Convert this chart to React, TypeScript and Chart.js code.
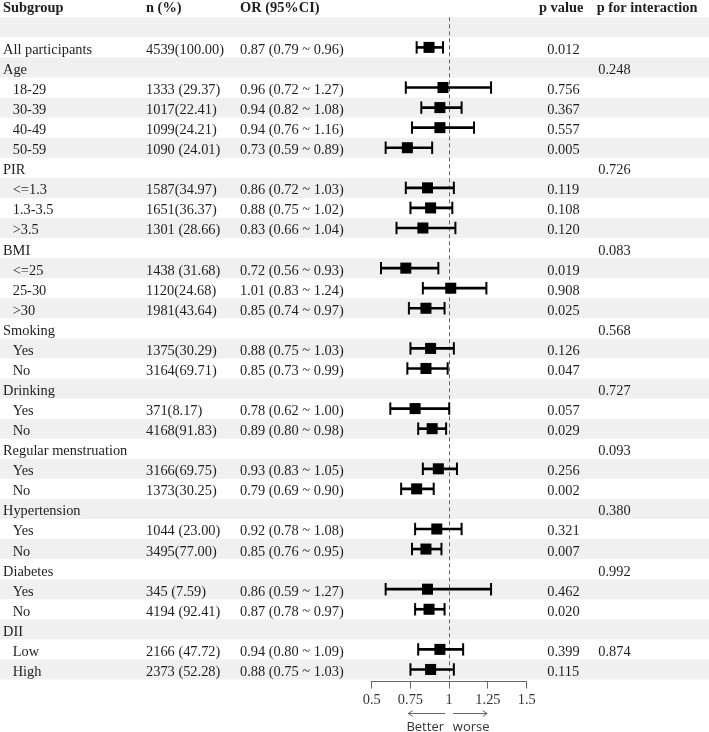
import React, { useEffect, useRef } from "react";
import { Chart, registerables } from "chart.js";

Chart.register(...registerables);

// ---- data (rows 1..33; row 1 is the blank band under the header) ----
const headers = ["Subgroup", "n (%)", "OR (95%CI)", "p value", "p for interaction"];

const subgroups = [
  "", "All participants", "Age", "18-29", "30-39", "40-49", "50-59",
  "PIR", "<=1.3", "1.3-3.5", ">3.5",
  "BMI", "<=25", "25-30", ">30",
  "Smoking", "Yes", "No",
  "Drinking", "Yes", "No",
  "Regular menstruation", "Yes", "No",
  "Hypertension", "Yes", "No",
  "Diabetes", "Yes", "No",
  "DII", "Low", "High",
];

const indented = [
  0, 0, 0, 1, 1, 1, 1,
  0, 1, 1, 1,
  0, 1, 1, 1,
  0, 1, 1,
  0, 1, 1,
  0, 1, 1,
  0, 1, 1,
  0, 1, 1,
  0, 1, 1,
];

const nPercent = [
  "", "4539(100.00)", "", "1333 (29.37)", "1017(22.41)", "1099(24.21)", "1090 (24.01)",
  "", "1587(34.97)", "1651(36.37)", "1301 (28.66)",
  "", "1438 (31.68)", "1120(24.68)", "1981(43.64)",
  "", "1375(30.29)", "3164(69.71)",
  "", "371(8.17)", "4168(91.83)",
  "", "3166(69.75)", "1373(30.25)",
  "", "1044 (23.00)", "3495(77.00)",
  "", "345 (7.59)", "4194 (92.41)",
  "", "2166 (47.72)", "2373 (52.28)",
];

const orValues: (number | null)[] = [
  null, 0.87, null, 0.96, 0.94, 0.94, 0.73,
  null, 0.86, 0.88, 0.83,
  null, 0.72, 1.01, 0.85,
  null, 0.88, 0.85,
  null, 0.78, 0.89,
  null, 0.93, 0.79,
  null, 0.92, 0.85,
  null, 0.86, 0.87,
  null, 0.94, 0.88,
];

const ciLower: (number | null)[] = [
  null, 0.79, null, 0.72, 0.82, 0.76, 0.59,
  null, 0.72, 0.75, 0.66,
  null, 0.56, 0.83, 0.74,
  null, 0.75, 0.73,
  null, 0.62, 0.80,
  null, 0.83, 0.69,
  null, 0.78, 0.76,
  null, 0.59, 0.78,
  null, 0.80, 0.75,
];

const ciUpper: (number | null)[] = [
  null, 0.96, null, 1.27, 1.08, 1.16, 0.89,
  null, 1.03, 1.02, 1.04,
  null, 0.93, 1.24, 0.97,
  null, 1.03, 0.99,
  null, 1.00, 0.98,
  null, 1.05, 0.90,
  null, 1.08, 0.95,
  null, 1.27, 0.97,
  null, 1.09, 1.03,
];

const pValues = [
  "", "0.012", "", "0.756", "0.367", "0.557", "0.005",
  "", "0.119", "0.108", "0.120",
  "", "0.019", "0.908", "0.025",
  "", "0.126", "0.047",
  "", "0.057", "0.029",
  "", "0.256", "0.002",
  "", "0.321", "0.007",
  "", "0.462", "0.020",
  "", "0.399", "0.115",
];

const pInteraction = [
  "", "", "0.248", "", "", "", "",
  "0.726", "", "", "",
  "0.083", "", "", "",
  "0.568", "", "",
  "0.727", "", "",
  "0.093", "", "",
  "0.380", "", "",
  "0.992", "", "",
  "", "0.874", "",
];

const tickValues = [0.5, 0.75, 1, 1.25, 1.5];
const tickLabels = ["0.5", "0.75", "1", "1.25", "1.5"];
const directionLabels = ["Better", "worse"];

// ---- layout / style ----
const W = 709;
const H = 732;
const SERIF = '"Liberation Serif", "Times New Roman", serif';
const SANS = '"Open Sans", "Liberation Sans", sans-serif';
const FS = 14.4;
const TEXT = "#1e1e1e";
const STRIPE = "#f0f0f0";
const colX = [3, 146, 240, 547.3, 598.3];
const headerX = [3, 146, 240, 539, 596.7];
const indentX = 12.7;

const fmt = (v: number) => v.toFixed(2);

export default function App() {
  const ref = useRef<HTMLCanvasElement>(null);

  useEffect(() => {
    const canvas = ref.current;
    if (!canvas) return;
    const rows = subgroups.map((_, i) => i + 1);
    const est = rows.filter((r) => orValues[r - 1] != null);

    const tablePlugin = {
      id: "forestTable",
      beforeDraw(chart: any) {
        const { ctx } = chart;
        const y = chart.scales.y;
        ctx.save();
        ctx.fillStyle = "#ffffff";
        ctx.fillRect(0, 0, W, H);
        ctx.fillStyle = STRIPE;
        rows.forEach((r) => {
          if (r % 2 === 1) {
            const t = y.getPixelForValue(r - 0.5);
            const b = y.getPixelForValue(r + 0.5);
            ctx.fillRect(0, t, W, b - t);
          }
        });
        ctx.restore();
      },
      afterDraw(chart: any) {
        const { ctx } = chart;
        const y = chart.scales.y;
        const x = chart.scales.x;
        ctx.save();
        ctx.fillStyle = TEXT;
        ctx.textAlign = "left";
        ctx.textBaseline = "alphabetic";
        // header
        ctx.font = `bold ${FS}px ${SERIF}`;
        const hy = y.getPixelForValue(0) + 4.5;
        headers.forEach((h, i) => ctx.fillText(h, headerX[i], hy));
        // body
        ctx.font = `${FS}px ${SERIF}`;
        rows.forEach((r) => {
          const i = r - 1;
          const by = y.getPixelForValue(r) + 6.5;
          if (subgroups[i]) ctx.fillText(subgroups[i], indented[i] ? indentX : colX[0], by);
          if (nPercent[i]) ctx.fillText(nPercent[i], colX[1], by);
          const o = orValues[i], lo = ciLower[i], hi = ciUpper[i];
          if (o != null && lo != null && hi != null) {
            ctx.fillText(`${fmt(o)} (${fmt(lo)} ~ ${fmt(hi)})`, colX[2], by);
          }
          if (pValues[i]) ctx.fillText(pValues[i], colX[3], by);
          if (pInteraction[i]) ctx.fillText(pInteraction[i], colX[4], by);
        });
        // direction arrows
        const p1 = x.getPixelForValue(1);
        const ay = 713.5;
        ctx.strokeStyle = "#666";
        ctx.lineWidth = 1;
        const arrow = (from: number, to: number) => {
          const dir = Math.sign(to - from);
          ctx.beginPath();
          ctx.moveTo(from, ay);
          ctx.lineTo(to, ay);
          ctx.moveTo(to - dir * 4.5, ay - 2.8);
          ctx.lineTo(to, ay);
          ctx.lineTo(to - dir * 4.5, ay + 2.8);
          ctx.stroke();
        };
        arrow(p1 - 4, p1 - 41);
        arrow(p1 + 4, p1 + 38);
        ctx.fillStyle = "#333";
        ctx.font = `13px ${SANS}`;
        ctx.textAlign = "center";
        ctx.fillText(directionLabels[0], p1 - 24, 731);
        ctx.fillText(directionLabels[1], p1 + 22, 731);
        ctx.restore();
      },
    };

    const chart = new Chart(canvas, {
      type: "scatter",
      data: {
        datasets: [
          {
            type: "bar",
            indexAxis: "y",
            data: est.map((r) => ({ y: r, x: [ciLower[r - 1], ciUpper[r - 1]] })),
            backgroundColor: "#000",
            borderWidth: 0,
            barThickness: 2,
            clip: false,
            order: 3,
          } as any,
          {
            type: "scatter",
            data: est.flatMap((r) => [
              { x: ciLower[r - 1], y: r },
              { x: ciUpper[r - 1], y: r },
            ]),
            pointStyle: "line",
            pointRotation: 90,
            pointRadius: 6.2,
            pointBorderWidth: 2,
            pointBorderColor: "#000",
            pointBackgroundColor: "#000",
            clip: false,
            order: 2,
          } as any,
          {
            type: "scatter",
            data: est.map((r) => ({ x: orValues[r - 1], y: r })),
            pointStyle: "rect",
            pointRadius: 7.8,
            pointBorderWidth: 0,
            pointBackgroundColor: "#000",
            pointBorderColor: "#000",
            clip: false,
            order: 1,
          } as any,
        ],
      },
      options: {
        responsive: false,
        animation: false,
        devicePixelRatio: 1,
        events: [],
        layout: { padding: { left: 371.7, right: W - 526.7, top: 17.3, bottom: 0 } },
        plugins: { legend: { display: false }, tooltip: { enabled: false } },
        scales: {
          x: {
            type: "linear",
            min: 0.5,
            max: 1.5,
            offset: false,
            beginAtZero: false,
            afterBuildTicks: (s: any) => {
              s.ticks = tickValues.map((v) => ({ value: v }));
            },
            afterFit: (s: any) => {
              s.height = H - 681.5;
            },
            ticks: {
              autoSkip: false,
              maxRotation: 0,
              padding: 3,
              color: "#333",
              font: { family: SERIF, size: FS },
              callback: (v: any) => tickLabels[tickValues.indexOf(Number(v))] ?? "",
            },
            grid: {
              offset: false,
              drawOnChartArea: true,
              drawTicks: true,
              tickLength: 7,
              lineWidth: 1,
              tickWidth: 1,
              tickColor: "#666",
              color: (c: any) => (c.tick && c.tick.value === 1 ? "#666" : "rgba(0,0,0,0)"),
            },
            border: { display: true, color: "#666", width: 1, dash: [4, 3] },
          },
          y: {
            type: "linear",
            min: 0.5,
            max: 33.6,
            reverse: true,
            display: false,
            offset: false,
            beginAtZero: false,
            grid: { offset: false },
          },
        },
      } as any,
      plugins: [tablePlugin],
    });

    return () => chart.destroy();
  }, []);

  return (
    <div style={{ position: "absolute", left: 0, top: 0, width: W, height: H, background: "#fff" }}>
      <canvas ref={ref} width={W} height={H} style={{ display: "block" }} />
    </div>
  );
}
